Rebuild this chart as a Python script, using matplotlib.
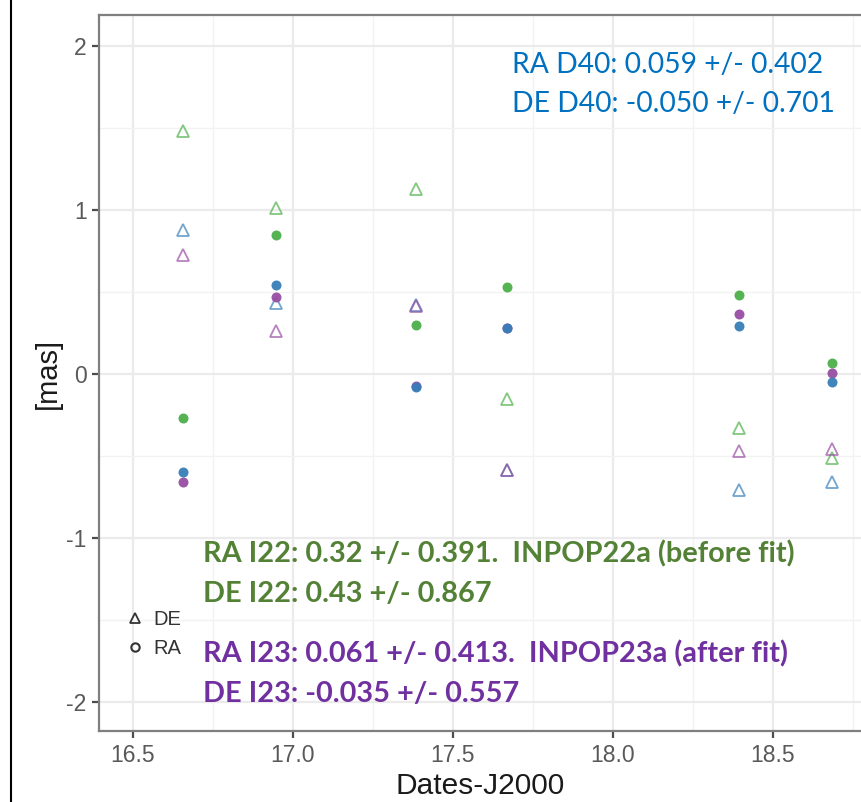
import matplotlib
matplotlib.use("Agg")
import matplotlib.pyplot as plt
from matplotlib.lines import Line2D
from matplotlib.ticker import MultipleLocator

# Observation epochs (years since J2000)
dates = [16.656, 16.947, 17.384, 17.669, 18.395, 18.683]

# Right ascension residuals [mas]
ra_d40 = [-0.60, 0.545, -0.08, 0.28, 0.29, -0.05]
ra_i22 = [-0.27, 0.85, 0.30, 0.53, 0.48, 0.065]
ra_i23 = [-0.66, 0.47, -0.075, 0.28, 0.365, 0.008]

# Declination residuals [mas]
de_d40 = [0.88, 0.43, 0.42, -0.585, -0.71, -0.66]
de_i22 = [1.48, 1.01, 1.125, -0.15, -0.33, -0.51]
de_i23 = [0.725, 0.26, 0.415, -0.585, -0.47, -0.46]

x_ticks = [16.5, 17.0, 17.5, 18.0, 18.5]
y_ticks = [-2, -1, 0, 1, 2]

c_blue = "#377eb8"
c_green = "#4daf4a"
c_purple = "#984ea3"

W, H = 861, 802
fig = plt.figure(figsize=(W / 100, H / 100), dpi=100)


def fx(px):
    return px / W


def fy(py):
    return 1 - py / H


ax = fig.add_axes([fx(99), fy(731), fx(861) - fx(99), fy(15) - fy(731)])
ax.set_facecolor("white")

# Declination: hollow triangles
tri_kw = dict(marker="^", ls="none", ms=9, mfc="none", mew=1.3, alpha=0.7)
ax.plot(dates, de_i22, mec=c_green, **tri_kw)
ax.plot(dates, de_d40, mec=c_blue, **tri_kw)
ax.plot(dates, de_i23, mec=c_purple, **tri_kw)

# Right ascension: filled circles
dot_kw = dict(marker="o", ls="none", ms=7.2, mew=0, alpha=0.95)
ax.plot(dates, ra_i22, mfc=c_green, **dot_kw)
ax.plot(dates, ra_i23, mfc=c_purple, **dot_kw)
ax.plot(dates, ra_d40, mfc=c_blue, **dot_kw)

ax.set_xlim(16.394, 18.775)
ax.set_ylim(-2.177, 2.189)
ax.set_xticks(x_ticks)
ax.set_xticklabels([f"{v:.1f}" for v in x_ticks])
ax.set_yticks(y_ticks)
ax.set_yticklabels([str(v) for v in y_ticks])
ax.xaxis.set_minor_locator(MultipleLocator(0.25))
ax.yaxis.set_minor_locator(MultipleLocator(0.5))

ax.grid(which="major", color="#ebebeb", lw=1.6, zorder=0)
ax.grid(which="minor", color="#f2f2f2", lw=1.0, zorder=0)
ax.set_axisbelow(True)

for side in ["left", "bottom", "top"]:
    ax.spines[side].set_color("#7f7f7f")
    ax.spines[side].set_linewidth(1.6)
ax.spines["right"].set_visible(False)

ax.tick_params(which="major", length=5, width=1.6, color="#4d4d4d",
               labelsize=16.5, labelcolor="#595959", pad=4)
ax.tick_params(which="minor", length=0)
for lab in ax.get_xticklabels() + ax.get_yticklabels():
    lab.set_fontfamily("Liberation Sans")

ax.set_xlabel("Dates-J2000", fontsize=21.5, family="Liberation Sans",
              color="#1a1a1a", labelpad=4)
ax.set_ylabel("[mas]", fontsize=21, family="Liberation Sans",
              color="#1a1a1a", labelpad=3)

# Shape legend inside the panel
handles = [
    Line2D([], [], marker="^", ls="none", ms=7, mfc="none", mec="#333333", mew=1.3),
    Line2D([], [], marker="o", ls="none", ms=6, mfc="none", mec="#333333", mew=1.5),
]
leg = ax.legend(handles, ["DE", "RA"], loc="center left",
                bbox_to_anchor=(fx(116), fy(634)), bbox_transform=fig.transFigure,
                frameon=False, handlelength=0.9, handletextpad=0.45,
                labelspacing=0.5, borderpad=0,
                prop={"family": "Liberation Sans", "size": 14.5})
for t in leg.get_texts():
    t.set_color("#333333")

# Summary statistics
blue_txt = "#0070c0"
green_txt = "#538135"
purple_txt = "#7030a0"
fig.text(fx(512), fy(73), "RA D40: 0.059 +/- 0.402", color=blue_txt,
         family="Lato", fontsize=20.3, va="baseline")
fig.text(fx(512), fy(112), "DE D40: -0.050 +/- 0.701", color=blue_txt,
         family="Lato", fontsize=20.3, va="baseline")
fig.text(fx(203), fy(562), "RA I22: 0.32 +/- 0.391.  INPOP22a (before fit)",
         color=green_txt, family="Lato", fontweight="bold", fontsize=20.8, va="baseline")
fig.text(fx(203), fy(602), "DE I22: 0.43 +/- 0.867",
         color=green_txt, family="Lato", fontweight="bold", fontsize=20.8, va="baseline")
fig.text(fx(203), fy(662), "RA I23: 0.061 +/- 0.413.  INPOP23a (after fit)",
         color=purple_txt, family="Lato", fontweight="bold", fontsize=20.8, va="baseline")
fig.text(fx(203), fy(702), "DE I23: -0.035 +/- 0.557",
         color=purple_txt, family="Lato", fontweight="bold", fontsize=20.8, va="baseline")

# Frame line on the left edge
fig.add_artist(Line2D([fx(11), fx(11)], [0, 1], color="black", lw=1.5,
                      transform=fig.transFigure))

fig.savefig("out.png", dpi=100)
